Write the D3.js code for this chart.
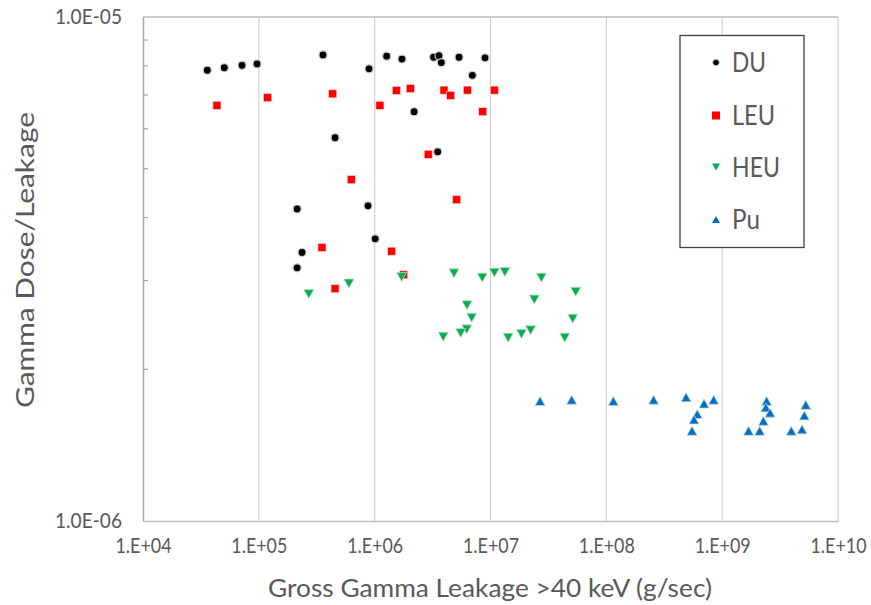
<!DOCTYPE html>
<html>
<head>
<meta charset="utf-8">
<script src="https://cdn.jsdelivr.net/npm/d3@7"></script>
<style>
  html, body { margin: 0; padding: 0; background: #fff; }
  svg { display: block; }
  text { font-family: Lato, "Open Sans", sans-serif; fill: #595959; }
</style>
</head>
<body>
<svg id="chart" width="871" height="605"></svg>
<script>
// ---------------- data ----------------
const seriesNames = ["DU", "LEU", "HEU", "Pu"];

const duX = [3.59e4, 5.03e4, 7.16e4, 9.64e4, 3.58e5, 8.94e5, 1.27e6, 4.55e5, 1.72e6, 3.23e6, 3.59e6,
             3.76e6, 5.35e6, 8.97e6, 6.97e6, 2.19e6, 3.50e6, 2.14e5, 8.76e5, 2.36e5, 2.14e5, 1.01e6];
const duY = [7.84e-6, 7.93e-6, 8.02e-6, 8.07e-6, 8.41e-6, 7.89e-6, 8.36e-6, 5.76e-6, 8.25e-6, 8.32e-6, 8.38e-6,
             8.12e-6, 8.32e-6, 8.30e-6, 7.66e-6, 6.49e-6, 5.40e-6, 4.16e-6, 4.22e-6, 3.41e-6, 3.18e-6, 3.63e-6];

const leuX = [4.35e4, 1.19e5, 4.34e5, 1.11e6, 6.28e5, 1.54e6, 2.03e6, 3.97e6, 4.53e6, 6.31e6, 1.08e7,
              8.57e6, 2.90e6, 5.11e6, 3.51e5, 1.40e6, 4.55e5, 1.78e6];
const leuY = [6.68e-6, 6.92e-6, 7.04e-6, 6.68e-6, 4.76e-6, 7.15e-6, 7.21e-6, 7.16e-6, 6.99e-6, 7.16e-6, 7.16e-6,
              6.49e-6, 5.34e-6, 4.34e-6, 3.49e-6, 3.43e-6, 2.89e-6, 3.08e-6];

const heuX = [2.70e5, 6.00e5, 1.71e6, 4.84e6, 8.49e6, 1.08e7, 1.33e7, 2.75e7, 5.44e7, 2.39e7,
              6.27e6, 6.88e6, 5.13e7, 6.23e6, 5.53e6, 3.91e6, 1.42e7, 1.85e7, 2.22e7, 4.37e7];
const heuY = [2.82e-6, 2.96e-6, 3.05e-6, 3.10e-6, 3.04e-6, 3.11e-6, 3.12e-6, 3.04e-6, 2.85e-6, 2.75e-6,
              2.68e-6, 2.53e-6, 2.52e-6, 2.40e-6, 2.36e-6, 2.32e-6, 2.31e-6, 2.35e-6, 2.39e-6, 2.31e-6];

const puX = [2.68e7, 5.02e7, 1.15e8, 2.56e8, 4.88e8, 6.97e8, 8.45e8, 6.10e8, 5.71e8, 5.49e8,
             2.42e9, 2.38e9, 2.59e9, 2.27e9, 1.69e9, 2.11e9, 5.27e9, 5.12e9, 3.95e9, 4.89e9];
const puY = [1.73e-6, 1.74e-6, 1.73e-6, 1.74e-6, 1.76e-6, 1.71e-6, 1.74e-6, 1.63e-6, 1.59e-6, 1.51e-6,
             1.73e-6, 1.68e-6, 1.64e-6, 1.58e-6, 1.51e-6, 1.51e-6, 1.70e-6, 1.62e-6, 1.51e-6, 1.52e-6];

const xTickValues = [1e4, 1e5, 1e6, 1e7, 1e8, 1e9, 1e10];
const xTickLabels = ["1.E+04", "1.E+05", "1.E+06", "1.E+07", "1.E+08", "1.E+09", "1.E+10"];
const yTickValues = [1e-6, 1e-5];
const yTickLabels = ["1.0E-06", "1.0E-05"];
const yMinorValues = [2e-6, 3e-6, 4e-6, 5e-6, 6e-6, 7e-6, 8e-6, 9e-6];

const xTitle = "Gross Gamma Leakage >40 keV (g/sec)";
const yTitle = "Gamma Dose/Leakage";

// ---------------- chart ----------------
const svg = d3.select("#chart");
const pLeft = 143, pRight = 838, pTop = 17, pBottom = 521;

const x = d3.scaleLog().domain([1e4, 1e10]).range([pLeft, pRight]);
const y = d3.scaleLog().domain([1e-6, 1e-5]).range([pBottom, pTop]);

// vertical gridlines
svg.append("g").selectAll("line").data(xTickValues.slice(1)).join("line")
  .attr("x1", d => x(d)).attr("x2", d => x(d))
  .attr("y1", pTop).attr("y2", pBottom)
  .attr("stroke", "#d0d0d0").attr("stroke-width", 1.2);

// top horizontal gridline
svg.append("line")
  .attr("x1", pLeft).attr("x2", pRight).attr("y1", y(1e-5)).attr("y2", y(1e-5))
  .attr("stroke", "#bcbcbc").attr("stroke-width", 1.5);

// x axis
const xAxis = d3.axisBottom(x).tickValues(xTickValues)
  .tickFormat((d, i) => xTickLabels[i]).tickSize(0).tickPadding(17);
const gx = svg.append("g").attr("transform", `translate(0,${pBottom})`).call(xAxis);
gx.select(".domain").attr("stroke", "#bfbfbf").attr("stroke-width", 1.5);
gx.selectAll("text").attr("font-size", 21).attr("fill", "#595959")
  .attr("font-family", "Lato, sans-serif")
  .attr("textLength", 56).attr("lengthAdjust", "spacingAndGlyphs");

// y axis
const yAxis = d3.axisLeft(y).tickValues(yTickValues)
  .tickFormat((d, i) => yTickLabels[i]).tickSize(0).tickPadding(21);
const gy = svg.append("g").attr("transform", `translate(${pLeft},0)`).call(yAxis);
gy.select(".domain").attr("stroke", "#a6a6a6").attr("stroke-width", 1.5);
gy.selectAll("text").attr("font-size", 21).attr("fill", "#595959")
  .attr("font-family", "Lato, sans-serif")
  .attr("textLength", 67).attr("lengthAdjust", "spacingAndGlyphs");

// y minor ticks (inside)
svg.append("g").selectAll("line").data(yMinorValues).join("line")
  .attr("x1", pLeft).attr("x2", pLeft + 5)
  .attr("y1", d => y(d)).attr("y2", d => y(d))
  .attr("stroke", "#a6a6a6").attr("stroke-width", 1.2);

// titles
svg.append("text").attr("x", 490).attr("y", 597).attr("text-anchor", "middle")
  .attr("font-size", 25).attr("textLength", 444).attr("lengthAdjust", "spacingAndGlyphs")
  .text(xTitle);
svg.append("text").attr("transform", "translate(34,260) rotate(-90)").attr("text-anchor", "middle")
  .attr("font-size", 25).attr("textLength", 296).attr("lengthAdjust", "spacingAndGlyphs")
  .text(yTitle);

// marker shapes
const tri = (w, h, up) => up
  ? `M0,${-h / 2}L${w / 2},${h / 2}L${-w / 2},${h / 2}Z`
  : `M0,${h / 2}L${w / 2},${-h / 2}L${-w / 2},${-h / 2}Z`;

const zip = (xs, ys) => xs.map((v, i) => [v, ys[i]]);

const gPts = svg.append("g");

// DU circles
gPts.append("g").selectAll("circle").data(zip(duX, duY)).join("circle")
  .attr("cx", d => x(d[0])).attr("cy", d => y(d[1])).attr("r", 4)
  .attr("fill", "#000").attr("stroke", "#c8c8c8").attr("stroke-width", 1.2);

// LEU squares
gPts.append("g").selectAll("rect").data(zip(leuX, leuY)).join("rect")
  .attr("x", d => x(d[0]) - 4).attr("y", d => y(d[1]) - 4)
  .attr("width", 8).attr("height", 8)
  .attr("fill", "#ff0000").attr("stroke", "#ffd0d0").attr("stroke-width", 0.6);

// HEU down triangles
gPts.append("g").selectAll("path").data(zip(heuX, heuY)).join("path")
  .attr("transform", d => `translate(${x(d[0])},${y(d[1])})`)
  .attr("d", tri(10, 9, false))
  .attr("fill", "#00b050").attr("stroke", "#c8d8c8").attr("stroke-width", 0.8);

// Pu up triangles
gPts.append("g").selectAll("path").data(zip(puX, puY)).join("path")
  .attr("transform", d => `translate(${x(d[0])},${y(d[1])})`)
  .attr("d", tri(10, 9, true))
  .attr("fill", "#0070c0").attr("stroke", "#c8d4e0").attr("stroke-width", 0.8);

// legend
const lg = svg.append("g");
lg.append("rect").attr("x", 680).attr("y", 35.5).attr("width", 124).attr("height", 212)
  .attr("fill", "#fff").attr("stroke", "#404040").attr("stroke-width", 1.3);

const legendRows = [62.5, 115.5, 167, 219.5];
const legendWidths = [34, 43, 48, 28];
seriesNames.forEach((name, i) => {
  const cy = legendRows[i], cx = 716;
  if (i === 0) {
    lg.append("circle").attr("cx", cx).attr("cy", cy).attr("r", 3.3)
      .attr("fill", "#000").attr("stroke", "#c8c8c8").attr("stroke-width", 1);
  } else if (i === 1) {
    lg.append("rect").attr("x", cx - 4).attr("y", cy - 4).attr("width", 8).attr("height", 8)
      .attr("fill", "#ff0000");
  } else if (i === 2) {
    lg.append("path").attr("transform", `translate(${cx},${cy})`).attr("d", tri(8, 7, false))
      .attr("fill", "#00b050");
  } else {
    lg.append("path").attr("transform", `translate(${cx},${cy})`).attr("d", tri(8, 7, true))
      .attr("fill", "#0070c0");
  }
  lg.append("text").attr("x", 732).attr("y", cy + 9.5).attr("font-size", 27)
    .attr("textLength", legendWidths[i]).attr("lengthAdjust", "spacingAndGlyphs")
    .text(name);
});
</script>
</body>
</html>
